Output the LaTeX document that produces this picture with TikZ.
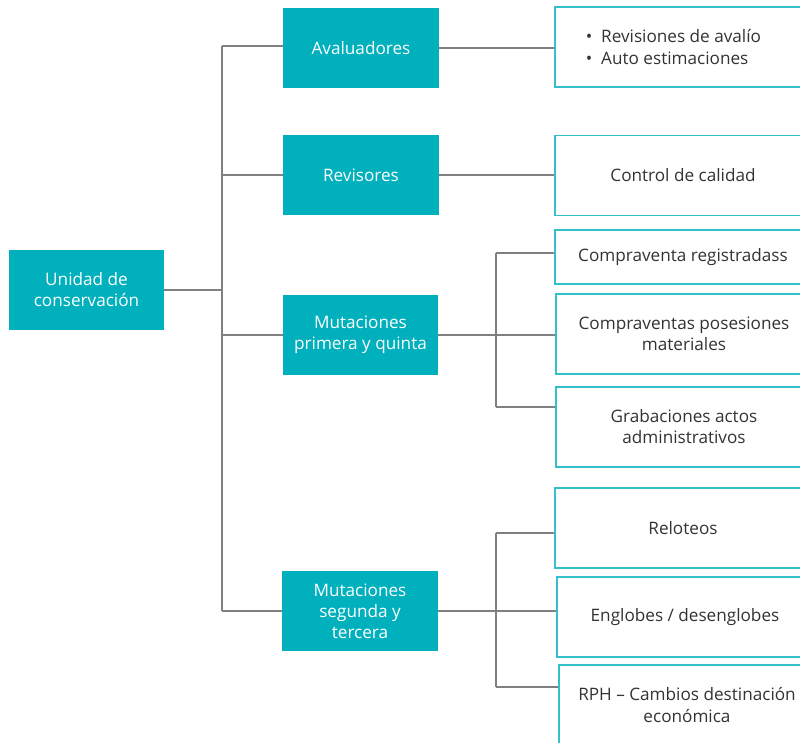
\documentclass[tikz,border=0pt]{standalone}
\usepackage{fontspec}
\setmainfont{Open Sans}
\usetikzlibrary{positioning, calc}
\definecolor{tealfill}{RGB}{0,176,189}
\definecolor{tealline}{RGB}{51,192,204}
\definecolor{linkgray}{RGB}{128,128,128}

\begin{document}
\begin{tikzpicture}
      [x=0.025cm, y=-0.025cm,
       font=\fontsize{12.2}{15}\selectfont,
       role/.style={rectangle,fill=tealfill,text=white,align=center,
                    minimum width=3.875cm,minimum height=2cm,inner sep=1mm},
       task/.style={rectangle,draw=tealline,line width=1pt,fill=white,text=black!80,
                    align=center,minimum width=6.4cm,minimum height=2cm,inner sep=1mm},
       link/.style={draw=linkgray,line width=1pt}]
      \useasboundingbox (0,0) rectangle (800,742);
      \clip (0,0) rectangle (800,742);

      \node (Unidad) at (86.5,290) [role] {Unidad de\\conservación};

      \node (Avaluadores) at (361,48) [role] {Avaluadores};
      \node (Revisores) at (361,175) [role] {Revisores};
      \node (MutPQ) at (360.5,335) [role] {Mutaciones\\primera y quinta};
      \node (MutST) at (360,611) [role] {Mutaciones\\segunda y\\tercera};

      \node (Avaluos) at (683,47) [task] {};
      \node[anchor=west,align=left,text=black!80] (AvaluosTxt) at (581,47)
           {\textbullet\hspace{2.2mm}Revisiones de avalío\\\textbullet\hspace{2.2mm}Auto estimaciones};
      \node (Calidad) at (683,175.5) [task] {Control de calidad};

      \node (CompReg) at (683,257) [task,minimum height=1.35cm] {Compraventa registradass};
      \node (CompPos) at (684,334) [task] {Compraventas posesiones\\materiales};
      \node (Grabaciones) at (684,427) [task] {Grabaciones actos\\administrativos};

      \node (Reloteos) at (683,528) [task] {Reloteos};
      \node (Englobes) at (685,617) [task] {Englobes / desenglobes};
      \node (RPH) at (687,705) [task] {RPH – Cambios destinación\\económica};

      \coordinate (BusTop) at (222,46);
      \coordinate (BusBot) at (222,611);
      \coordinate (PQTop) at (496,253);
      \coordinate (PQBot) at (496,407);
      \coordinate (STTop) at (496,533);
      \coordinate (STBot) at (496,687);

      \path[link] (BusTop) -- (BusBot);
      \path[link] (Unidad.east) -- (Unidad.east -| BusTop);
      \path[link] (BusTop) -- (BusTop -| Avaluadores.west);
      \path[link] (Revisores.west -| BusTop) -- (Revisores.west);
      \path[link] (MutPQ.west -| BusTop) -- (MutPQ.west);
      \path[link] (BusBot) -- (BusBot -| MutST.west);

      \path[link] (Avaluadores.east) -- (Avaluadores.east -| Avaluos.west);
      \path[link] (Revisores.east) -- (Revisores.east -| Calidad.west);

      \path[link] (PQTop) -- (PQBot);
      \path[link] (MutPQ.east) -- (MutPQ.east -| CompPos.west);
      \path[link] (PQTop) -- (PQTop -| CompReg.west);
      \path[link] (PQBot) -- (PQBot -| Grabaciones.west);

      \path[link] (STTop) -- (STBot);
      \path[link] (MutST.east) -- (MutST.east -| Englobes.west);
      \path[link] (STTop) -- (STTop -| Reloteos.west);
      \path[link] (STBot) -- (STBot -| RPH.west);
\end{tikzpicture}
\end{document}
